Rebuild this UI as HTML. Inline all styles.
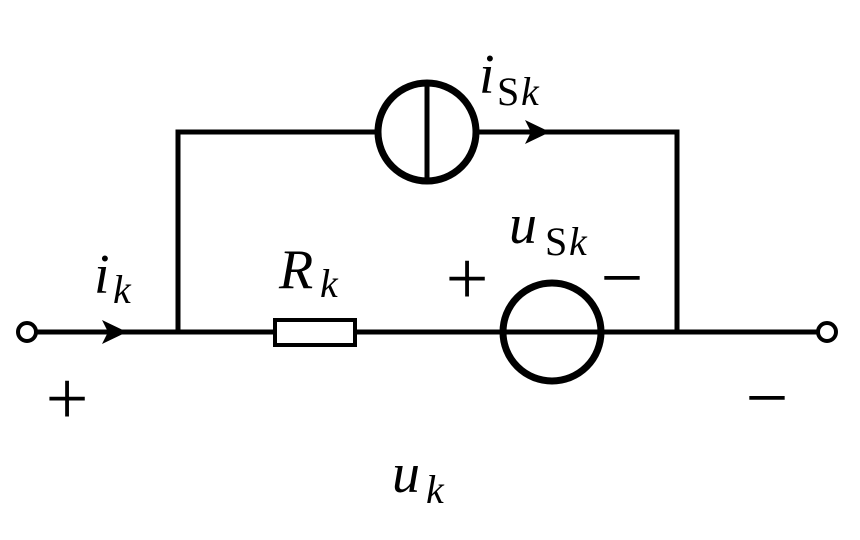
<!DOCTYPE html>
<html>
<head>
<meta charset="utf-8">
<style>
  html, body { margin: 0; padding: 0; background: #fff; }
  svg { display: block; }
  .m { font-family: "Liberation Serif", serif; font-style: italic; fill: #000; }
  .r { font-family: "Liberation Serif", serif; font-style: normal; fill: #000; }
</style>
</head>
<body>
<svg width="860" height="540" viewBox="0 0 860 540" xmlns="http://www.w3.org/2000/svg">
  <rect width="860" height="540" fill="#fff"/>
  <g stroke="#000" fill="none" stroke-width="5">
    <!-- main wire -->
    <line x1="36" y1="332" x2="275" y2="332"/>
    <line x1="355" y1="332" x2="818" y2="332"/>
    <!-- verticals -->
    <line x1="178" y1="334" x2="178" y2="129.5"/>
    <line x1="677" y1="334" x2="677" y2="129.5"/>
    <!-- top wire -->
    <line x1="175.5" y1="132" x2="377" y2="132"/>
    <line x1="477" y1="132" x2="679.5" y2="132"/>
  </g>
  <!-- terminals -->
  <circle cx="27" cy="332" r="9" fill="#fff" stroke="#000" stroke-width="4"/>
  <circle cx="827" cy="332" r="9" fill="#fff" stroke="#000" stroke-width="4"/>
  <!-- resistor -->
  <rect x="275" y="320" width="80" height="25" fill="#fff" stroke="#000" stroke-width="4"/>
  <!-- voltage source (wire passes through) -->
  <circle cx="552" cy="332" r="49" fill="none" stroke="#000" stroke-width="7"/>
  <!-- current source -->
  <circle cx="427" cy="132" r="49" fill="#fff" stroke="#000" stroke-width="7"/>
  <line x1="427" y1="83" x2="427" y2="181" stroke="#000" stroke-width="5"/>
  <!-- arrows -->
  <path d="M127 332 L102 320 L108 332 L102 344 Z" fill="#000"/>
  <path d="M550 132 L525 120 L531 132 L525 144 Z" fill="#000"/>

  <!-- labels -->
  <text class="m" x="479" y="93" font-size="56">i</text>
  <text class="r" x="497" y="105" font-size="40">S</text>
  <text class="m" x="521" y="105" font-size="40">k</text>

  <text class="m" x="509" y="243" font-size="56">u</text>
  <text class="r" x="545" y="255" font-size="40">S</text>
  <text class="m" x="569" y="255" font-size="40">k</text>

  <text class="m" x="279" y="288" font-size="56">R</text>
  <text class="m" x="320" y="297" font-size="40">k</text>

  <text class="m" x="94" y="293" font-size="56">i</text>
  <text class="m" x="113" y="303" font-size="40">k</text>

  <text class="m" x="392" y="492" font-size="56">u</text>
  <text class="m" x="426" y="503" font-size="40">k</text>

  <!-- signs -->
  <text class="r" x="67" y="424" font-size="76" text-anchor="middle">+</text>
  <text class="r" x="767" y="423" font-size="76" text-anchor="middle">−</text>
  <text class="r" x="467" y="304" font-size="76" text-anchor="middle">+</text>
  <text class="r" x="622" y="303" font-size="76" text-anchor="middle">−</text>
</svg>
</body>
</html>
